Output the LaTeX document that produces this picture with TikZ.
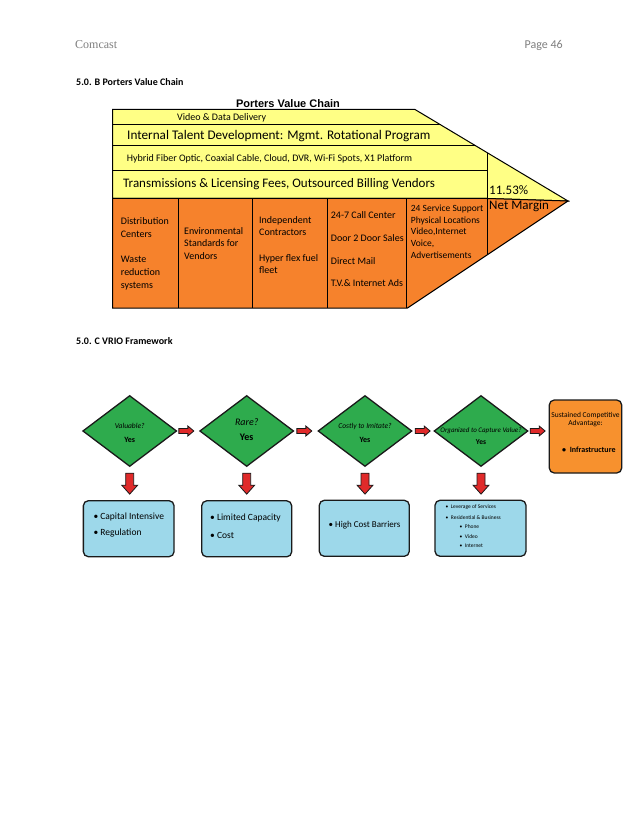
\documentclass[tikz,border=0pt]{standalone}
\usepackage{fontspec}
\setmainfont{Carlito}
\newfontfamily\hdrfont{Liberation Serif}
\newfontfamily\arialfont{Liberation Sans}
\usetikzlibrary{shapes.geometric}
\definecolor{vcyellow}{HTML}{FFFF85}
\definecolor{vcorange}{HTML}{F6822C}
\definecolor{vgreen}{HTML}{2EAB4D}
\definecolor{vblue}{HTML}{9DD8EA}
\definecolor{vorange}{HTML}{F7912E}
\definecolor{vred}{HTML}{E02A2A}
\definecolor{hdrgray}{HTML}{7F7F7F}
\definecolor{edge}{HTML}{1A1A1A}
\tikzset{
  txt/.style={inner sep=0pt, anchor=west},
  coltxt/.style={inner sep=0pt, anchor=north west, align=left},
  vcline/.style={draw=black, line width=1pt},
  vdiamond/.style={diamond, draw=edge, line width=1.3pt, fill=vgreen, inner sep=0pt, minimum width=94pt, minimum height=71pt},
  vbox/.style={rectangle, rounded corners=5pt, draw=edge, line width=1.3pt, fill=vblue, inner sep=0pt, minimum width=90pt, minimum height=56pt},
  rarrow/.pic={\filldraw[fill=vred, draw=edge, line width=0.8pt] (0,-2.5) -- (9,-2.5) -- (9,-5) -- (15,0) -- (9,5) -- (9,2.5) -- (0,2.5) -- cycle;},
  darrow/.pic={\filldraw[fill=vred, draw=edge, line width=0.8pt] (-4,0) -- (-4,12) -- (-8,12) -- (0,21) -- (8,12) -- (4,12) -- (4,0) -- cycle;}
}
\begin{document}
\begin{tikzpicture}[x=1pt, y=-1pt]
\useasboundingbox (0,0) rectangle (638,826);
\fill[white] (0,0) rectangle (638,826);
% header
\node[txt, font=\hdrfont\fontsize{12}{14}\selectfont, text=hdrgray] (hl) at (75,45) {Comcast};
\node[inner sep=0pt, anchor=east, font=\fontsize{12}{14}\selectfont, text=hdrgray] (hr) at (563,45) {Page 46};
\node[txt, font=\bfseries\fontsize{10}{12}\selectfont] (secb) at (76,82.5) {5.0. B Porters Value Chain};
\node[txt, font=\bfseries\fontsize{10}{12}\selectfont] (secc) at (76,341) {5.0. C VRIO Framework};
% value chain
\node[inner sep=0pt, font=\arialfont\bfseries\fontsize{11}{13}\selectfont] (vct) at (288,103.5) {Porters Value Chain};
\filldraw[vcline, fill=vcyellow] (112.7,109.5) -- (415,109.5) -- (568,201) -- (487.7,198.5) -- (112.7,198.5) -- cycle;
\filldraw[vcline, fill=vcorange] (112.7,198.5) -- (487.7,198.5) -- (568,201) -- (407.5,308) -- (112.7,308) -- cycle;
\draw[vcline] (112.7,125) -- (440.9,125);
\draw[vcline] (112.7,146) -- (476,146);
\draw[vcline] (112.7,171) -- (487.7,171);
\draw[vcline] (487.7,153) -- (487.7,254.5);
\foreach \xx in {178.3,252.3,327.3,406} {\draw[vcline] (\xx,198.5) -- (\xx,308);}
\node[inner sep=0pt, font=\fontsize{10}{12}\selectfont] (r1) at (221.7,117.5) {Video \& Data Delivery};
\node[txt, font=\fontsize{13.2}{15}\selectfont] (r2) at (127,136.5) {Internal Talent Development: Mgmt. Rotational Program};
\node[txt, font=\fontsize{10}{12}\selectfont] (r3) at (126.7,159) {Hybrid Fiber Optic, Coaxial Cable, Cloud, DVR, Wi-Fi Spots, X1 Platform};
\node[txt, font=\fontsize{13}{15}\selectfont] (r4) at (123,184) {Transmissions \& Licensing Fees, Outsourced Billing Vendors};
\node[txt, font=\fontsize{13}{15}\selectfont] (m1) at (489,190) {11.53\%};
\node[txt, font=\fontsize{13}{15}\selectfont] (m2) at (489,206.5) {Net Margin};
\node[coltxt, font=\fontsize{10}{12.8}\selectfont] (c1) at (120.7,217.4) {Distribution\\Centers\\[12.8pt]Waste\\reduction\\systems};
\node[coltxt, font=\fontsize{10}{12.5}\selectfont] (c2) at (184,227.1) {Environmental\\Standards for\\Vendors};
\node[coltxt, font=\fontsize{10}{12.5}\selectfont] (c3) at (259,216.1) {Independent\\Contractors\\[13pt]Hyper flex fuel\\fleet};
\node[coltxt, font=\fontsize{10}{22.9}\selectfont] (c4) at (330.7,211.1) {24-7 Call Center\\Door 2 Door Sales\\Direct Mail\\T.V.\& Internet Ads};
\node[coltxt, font=\fontsize{9.5}{11.6}\selectfont] (c5) at (410.7,204.9) {24 Service Support\\Physical Locations\\Video,Internet\\Voice,\\Advertisements};
% VRIO diamonds
\node[vdiamond] (d1) at (129.7,431) {};
\node[vdiamond] (d2) at (246.7,431) {};
\node[vdiamond] (d3) at (365,431) {};
\node[vdiamond] (d4) at (481,431) {};
\node[inner sep=0pt, font=\itshape\fontsize{7.5}{9}\selectfont] (t1a) at (129.7,426) {Valuable?};
\node[inner sep=0pt, font=\bfseries\fontsize{8}{9}\selectfont] (t1b) at (129.7,440) {Yes};
\node[inner sep=0pt, font=\itshape\fontsize{10}{12}\selectfont] (t2a) at (246.7,421.7) {Rare?};
\node[inner sep=0pt, font=\bfseries\fontsize{10}{12}\selectfont] (t2b) at (246.7,437.3) {Yes};
\node[inner sep=0pt, font=\itshape\fontsize{7.5}{9}\selectfont] (t3a) at (365,426.7) {Costly to Imitate?};
\node[inner sep=0pt, font=\bfseries\fontsize{8}{9}\selectfont] (t3b) at (365,440) {Yes};
\node[inner sep=0pt, font=\itshape\fontsize{7}{9}\selectfont] (t4a) at (481,430.7) {Organized to Capture Value?};
\node[inner sep=0pt, font=\bfseries\fontsize{7.5}{9}\selectfont] (t4b) at (481,441.7) {Yes};
% outcome box
\node[rectangle, rounded corners=5pt, draw=edge, line width=1.3pt, fill=vorange, inner sep=0pt, minimum width=72.4pt, minimum height=73pt] (sca) at (585.5,436.5) {};
\node[inner sep=0pt, align=center, font=\fontsize{7.5}{7.8}\selectfont] (scat) at (585.5,419.5) {Sustained Competitive\\Advantage:};
\node[txt, font=\bfseries\fontsize{8}{10}\selectfont] (scab) at (562,450) {•\ \ Infrastructure};
% right arrows
\path (d1.east) ++(1.5,0) pic {rarrow};
\path (d2.east) ++(2.5,0) pic {rarrow};
\path (d3.east) ++(2.5,0) pic {rarrow};
\path (d4.east) ++(1.5,0) pic {rarrow};
% result boxes
\node[vbox, minimum width=90.7pt] (b1) at (128.7,528.7) {};
\node[vbox] (b2) at (246.7,528.8) {};
\node[vbox] (b3) at (364.3,528.3) {};
\node[vbox, minimum width=91pt] (b4) at (480.5,528.3) {};
\path (d1.south) ++(0,6) pic {darrow};
\path (d2.south) ++(0,6) pic {darrow};
\path (d3.south) ++(0,6) pic {darrow};
\path (d4.south) ++(0,6) pic {darrow};
\node[txt, font=\fontsize{9.5}{11}\selectfont] (b1a) at (93.3,516.7) {• Capital Intensive};
\node[txt, font=\fontsize{9.5}{11}\selectfont] (b1b) at (93.3,533.3) {• Regulation};
\node[txt, font=\fontsize{9.5}{11}\selectfont] (b2a) at (210,518.3) {• Limited Capacity};
\node[txt, font=\fontsize{9.5}{11}\selectfont] (b2b) at (210,535) {• Cost};
\node[txt, font=\fontsize{9}{11}\selectfont] (b3a) at (328.5,525) {\textbullet\ High Cost Barriers};
\node[txt, font=\fontsize{5.5}{7}\selectfont] (b4a) at (445.5,507.3) {•\ \ Leverage of Services};
\node[txt, font=\fontsize{5.5}{7}\selectfont] (b4b) at (445.5,517.3) {•\ \ Residential \& Business};
\node[txt, font=\fontsize{5.5}{7}\selectfont] (b4c) at (459.5,526.7) {•\ \ Phone};
\node[txt, font=\fontsize{5.5}{7}\selectfont] (b4d) at (459.5,536.7) {•\ \ Video};
\node[txt, font=\fontsize{5.5}{7}\selectfont] (b4e) at (459.5,546) {•\ \ Internet};
\end{tikzpicture}
\end{document}
